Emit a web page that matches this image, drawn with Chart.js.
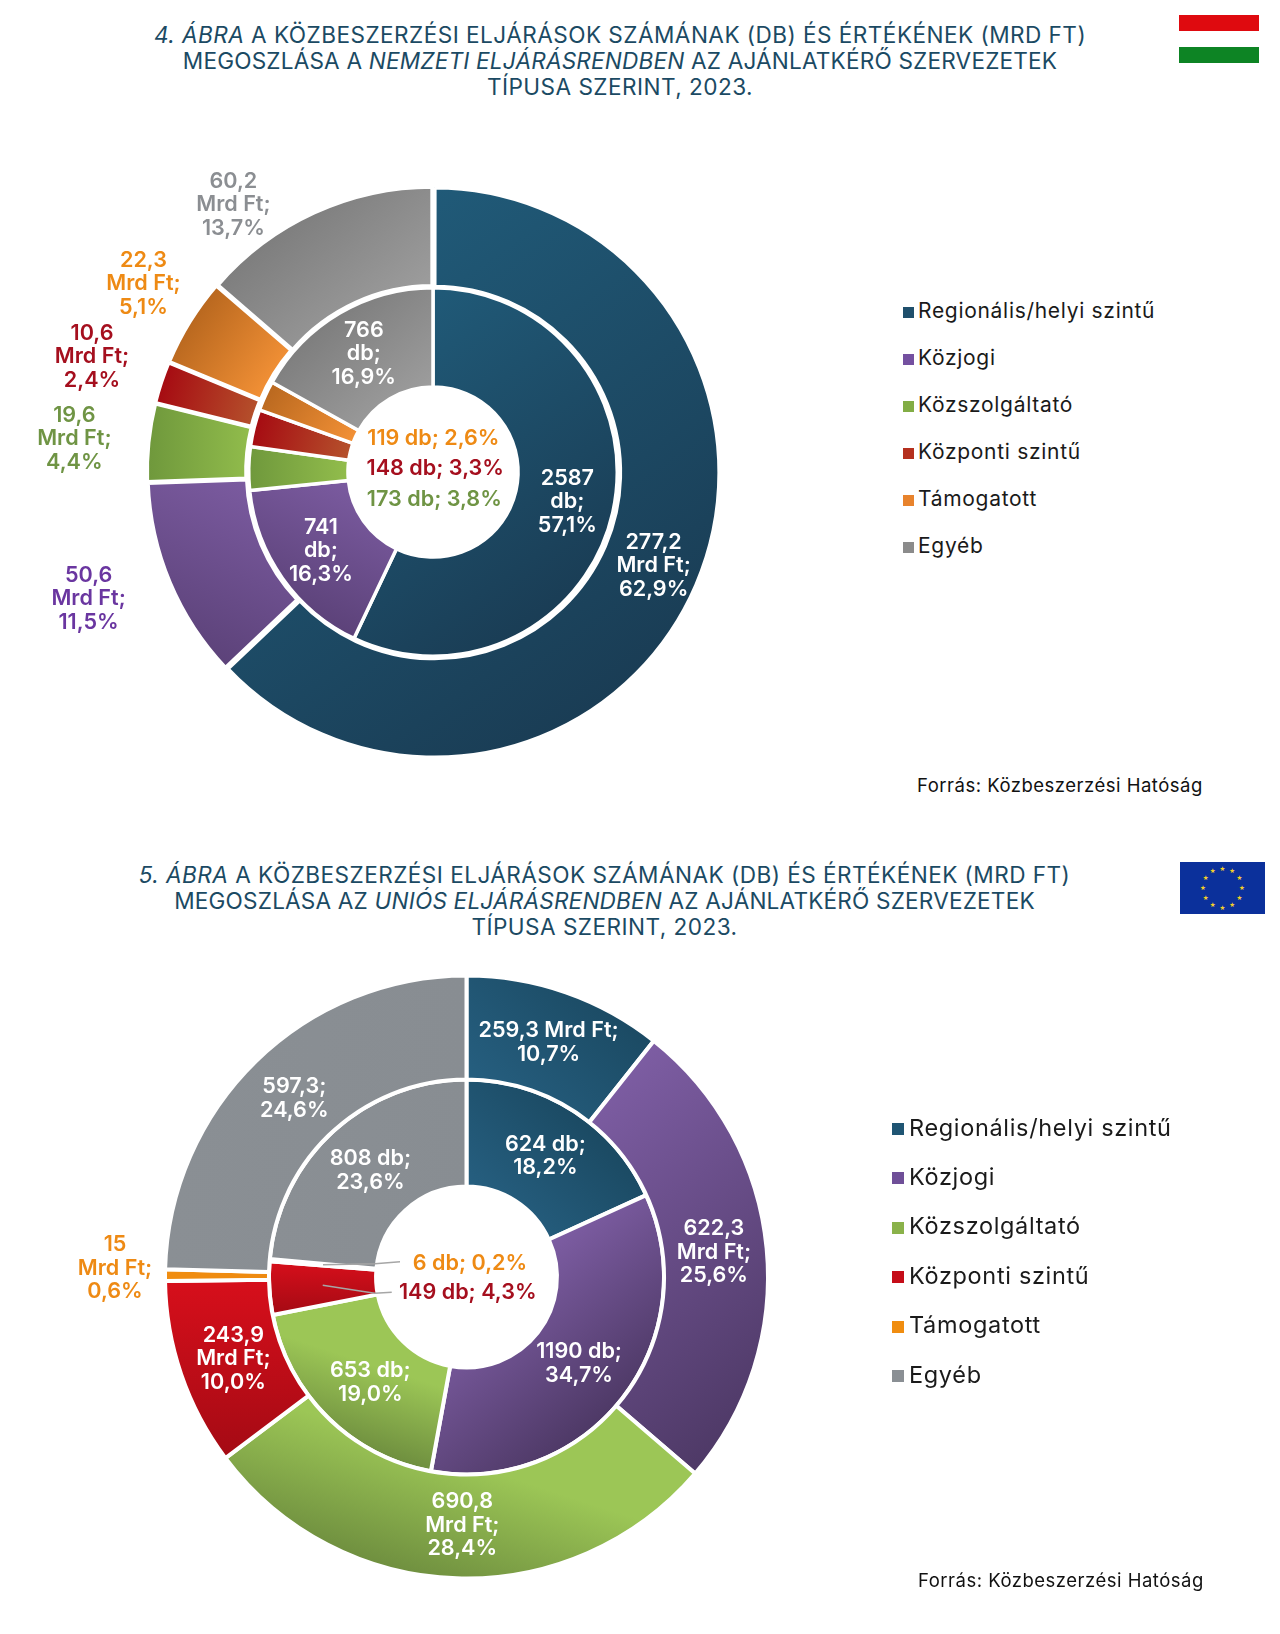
<!DOCTYPE html>
<html lang="hu">
<head>
<meta charset="utf-8">
<title>Közbeszerzési eljárások</title>
<script src="https://cdn.jsdelivr.net/npm/chart.js@4"></script>
<style>
  html, body { margin: 0; padding: 0; background: #fff; }
  #page { position: relative; width: 1280px; height: 1634px; overflow: hidden; font-family: Inter, sans-serif; }
  #page canvas { position: absolute; left: 0; }
  .title { position: absolute; text-align: center; white-space: nowrap; color: #1b4a63; font-size: 22.6px; line-height: 26px; font-weight: 400; transform: translateX(-50%); }
  .title span { letter-spacing: .45px; }
  .title span.tight { letter-spacing: .18px; }
  .source { position: absolute; color: #111; font-size: 18.5px; white-space: nowrap; letter-spacing: .5px; }
  .legend { position: absolute; }
  .legend div { position: absolute; left: 0; white-space: nowrap; color: #1a1a1a; }
  .legend i { position: absolute; left: 0; }
  .flag { position: absolute; left: 1179px; }
</style>
</head>
<body>
<div id="page">
  <div class="title" style="left:620px;top:22px">
    <span><i>4. ÁBRA</i> A KÖZBESZERZÉSI ELJÁRÁSOK SZÁMÁNAK (DB) ÉS ÉRTÉKÉNEK (MRD FT)</span><br>
    <span class="tight">MEGOSZLÁSA A <i>NEMZETI ELJÁRÁSRENDBEN</i> AZ AJÁNLATKÉRŐ SZERVEZETEK</span><br>
    <span>TÍPUSA SZERINT, 2023.</span>
  </div>
  <svg class="flag" style="top:15px" width="80" height="48"><rect width="80" height="16" fill="#df0a0f"/><rect y="16" width="80" height="16" fill="#fff"/><rect y="32" width="80" height="16" fill="#0d8424"/></svg>
  <canvas id="chart4" width="866" height="660" style="top:142px"></canvas>
  <div class="legend" id="legend4" style="left:903px;top:0"></div>
  <div class="source" style="left:917px;top:774px">Forrás: Közbeszerzési Hatóság</div>

  <div class="title" style="left:604.5px;top:862px">
    <span><i>5. ÁBRA</i> A KÖZBESZERZÉSI ELJÁRÁSOK SZÁMÁNAK (DB) ÉS ÉRTÉKÉNEK (MRD FT)</span><br>
    <span class="tight">MEGOSZLÁSA AZ <i>UNIÓS ELJÁRÁSRENDBEN</i> AZ AJÁNLATKÉRŐ SZERVEZETEK</span><br>
    <span>TÍPUSA SZERINT, 2023.</span>
  </div>
  <svg class="flag" id="euFlag" style="top:862px;left:1180px" width="85" height="52"><rect width="85" height="52" fill="#0b309b"/></svg>
  <canvas id="chart5" width="933" height="640" style="top:957px"></canvas>
  <div class="legend" id="legend5" style="left:892px;top:0"></div>
  <div class="source" style="left:918px;top:1569px">Forrás: Közbeszerzési Hatóság</div>
</div>

<script>
// categories and values
var categories = ['Regionális/helyi szintű', 'Közjogi', 'Közszolgáltató', 'Központi szintű', 'Támogatott', 'Egyéb'];

var value4 = [277.2, 50.6, 19.6, 10.6, 22.3, 60.2];
var count4 = [2587, 741, 173, 148, 119, 766];
var value5 = [259.3, 622.3, 690.8, 243.9, 15, 597.3];
var count5 = [624, 1190, 653, 149, 6, 808];

var valueText4 = ['277,2\nMrd Ft;\n62,9%', '50,6\nMrd Ft;\n11,5%', '19,6\nMrd Ft;\n4,4%', '10,6\nMrd Ft;\n2,4%', '22,3\nMrd Ft;\n5,1%', '60,2\nMrd Ft;\n13,7%'];
var countText4 = ['2587\ndb;\n57,1%', '741\ndb;\n16,3%', '173 db; 3,8%', '148 db; 3,3%', '119 db; 2,6%', '766\ndb;\n16,9%'];
var valueText5 = ['259,3 Mrd Ft;\n10,7%', '622,3\nMrd Ft;\n25,6%', '690,8\nMrd Ft;\n28,4%', '243,9\nMrd Ft;\n10,0%', '15\nMrd Ft;\n0,6%', '597,3;\n24,6%'];
var countText5 = ['624 db;\n18,2%', '1190 db;\n34,7%', '653 db;\n19,0%', '149 db; 4,3%', '6 db; 0,2%', '808 db;\n23,6%'];

// label nudges from the centre of each arc, px
var valueShift4 = [[3, 0], [-126, 35], [-123, -9], [-116, -41], [-88, -64], [-101, -52]];
var countShift4 = [[3, 0], [-2, 1], [136, 30], [133, 29], [123, 22], [-1, -2]];
var valueShift5 = [[0, 1], [-1, -1], [4, -1], [3, 1], [-102, -7], [2, 0]];
var countShift5 = [[1, 0], [-1, -2], [5, 3], [145, 7], [147, -1], [1, 0]];

var white = '#ffffff';
var textOrange = '#ee8a14', textRed = '#a50f1e', textGreen = '#6f9444', textPurple = '#6a36a0', textGray = '#8b8e92';
var valueInk4 = [white, textPurple, textGreen, textRed, textOrange, textGray];
var countInk4 = [white, white, textGreen, textRed, textOrange, white];
var valueInk5 = [white, white, white, white, textOrange, white];
var countInk5 = [white, white, white, textRed, textOrange, white];

// slice gradients: from, to, direction in degrees (0 = right, 90 = down), where the first colour stops
var shades4 = [['#205a78', '#1a3d55', 55, 0], ['#7b5ba0', '#5c4279', 115, 0], ['#6f983c', '#92bd4c', 0, 0], ['#a60b12', '#b5522c', 15, 0], ['#b9681f', '#f39136', 35, 0], ['#7e7e7e', '#9d9d9d', 50, 0]];
var shades5 = [['#1b4a63', '#265f80', 135, 0], ['#7d5da3', '#4e3966', 50, 0], ['#9cc656', '#6f8f3f', 108, 0.45], ['#d70f1b', '#a40a14', 90, 0], ['#f08d10', '#ee8a10', 0, 0], ['#8a8f94', '#888d92', 0, 0]];
var legendBox4 = ['#1f4f6c', '#7450a0', '#82ad45', '#b5301e', '#e8832c', '#8b8b8b'];
var legendBox5 = ['#1f5573', '#6f4f98', '#8ab24a', '#c50d18', '#f08d10', '#8a8f94'];

// grey leader lines for the two thin slices of the lower chart, from arc centre
var leaders5 = { 3: [[52, 8], [69, 7]], 4: [[52, -1], [77, -3]] };

var holeRatio = 0.3;

function sliceGradient(context, shades) {
  var chart = context.chart, area = chart.chartArea;
  if (!area || context.type !== 'data') return shades[context.dataIndex][0];
  var data = context.dataset.data, i = context.dataIndex;
  var total = data.reduce(function (a, b) { return a + b; }, 0);
  var before = 0;
  for (var k = 0; k < i; k++) before += data[k];
  var start = -Math.PI / 2 + before / total * 2 * Math.PI;
  var end = start + data[i] / total * 2 * Math.PI;
  var cx = (area.left + area.right) / 2, cy = (area.top + area.bottom) / 2;
  var rOut = chart.options.radius, rIn = rOut * holeRatio;
  var ring = (rOut - rIn) / 2;
  if (context.datasetIndex === 0) rIn = rOut - ring; else rOut = rOut - ring;
  var dir = shades[i][2] * Math.PI / 180, ux = Math.cos(dir), uy = Math.sin(dir);
  var lo = Infinity, hi = -Infinity;
  for (var s = 0; s <= 24; s++) {
    var a = start + (end - start) * s / 24;
    [rIn, rOut].forEach(function (r) {
      var p = Math.cos(a) * r * ux + Math.sin(a) * r * uy;
      if (p < lo) lo = p;
      if (p > hi) hi = p;
    });
  }
  var g = chart.ctx.createLinearGradient(cx + lo * ux, cy + lo * uy, cx + hi * ux, cy + hi * uy);
  g.addColorStop(0, shades[i][0]);
  g.addColorStop(shades[i][3], shades[i][0]);
  g.addColorStop(1, shades[i][1]);
  return g;
}

// no datalabels plugin here, so labels are written straight on the arcs
var sliceLabels = {
  id: 'sliceLabels',
  afterDatasetsDraw: function (chart, args, opts) {
    var ctx = chart.ctx;
    ctx.save();
    ctx.textAlign = 'center';
    ctx.textBaseline = 'middle';
    ctx.font = '600 ' + opts.size + 'px Inter, sans-serif';
    opts.rings.forEach(function (ring, d) {
      chart.getDatasetMeta(d).data.forEach(function (arc, i) {
        var c = arc.getCenterPoint();
        var x = c.x + ring.shift[i][0], y = c.y + ring.shift[i][1];
        if (ring.leaders && ring.leaders[i]) {
          ctx.strokeStyle = '#a6a6a6';
          ctx.lineWidth = 1.5;
          ctx.beginPath();
          ctx.moveTo(c.x, c.y);
          ring.leaders[i].forEach(function (p) { ctx.lineTo(c.x + p[0], c.y + p[1]); });
          ctx.stroke();
        }
        ctx.fillStyle = ring.ink[i];
        var lines = ring.text[i].split('\n');
        lines.forEach(function (line, n) {
          ctx.fillText(line, x, y + (n - (lines.length - 1) / 2) * opts.lineHeight);
        });
      });
    });
    ctx.restore();
  }
};

function drawDonut(id, cfg) {
  return new Chart(document.getElementById(id), {
    type: 'doughnut',
    data: {
      labels: categories,
      datasets: [
        {
          label: 'Mrd Ft',
          data: cfg.values,
          backgroundColor: function (c) { return sliceGradient(c, cfg.shades); },
          borderColor: white,
          borderWidth: cfg.outerBorder,
          offset: cfg.outerOffset
        },
        {
          label: 'db',
          data: cfg.counts,
          backgroundColor: function (c) { return sliceGradient(c, cfg.shades); },
          borderColor: white,
          borderWidth: cfg.innerBorder,
          weight: cfg.innerWeight
        }
      ]
    },
    plugins: [sliceLabels],
    options: {
      responsive: false,
      animation: false,
      radius: cfg.radius,
      cutout: (holeRatio * 100) + '%',
      layout: { padding: 0 },
      plugins: {
        legend: { display: false },
        tooltip: { enabled: false },
        sliceLabels: {
          size: 21.6,
          lineHeight: 23.5,
          rings: [
            { text: cfg.valueText, shift: cfg.valueShift, ink: cfg.valueInk },
            { text: cfg.countText, shift: cfg.countShift, ink: cfg.countInk, leaders: cfg.leaders }
          ]
        }
      }
    }
  });
}

function drawLegend(id, boxes, top, step, size, boxSize, gap, spacing) {
  var box = document.getElementById(id);
  categories.forEach(function (name, i) {
    var row = document.createElement('div');
    row.textContent = name;
    row.style.top = (top + i * step - size * 0.7) + 'px';
    row.style.left = (boxSize + gap) + 'px';
    row.style.fontSize = size + 'px';
    row.style.lineHeight = (size * 1.4) + 'px';
    row.style.letterSpacing = spacing + 'px';
    var mark = document.createElement('i');
    mark.style.top = (top + i * step - boxSize / 2 + 1) + 'px';
    mark.style.width = boxSize + 'px';
    mark.style.height = boxSize + 'px';
    mark.style.background = boxes[i];
    box.appendChild(row);
    box.appendChild(mark);
  });
}

// twelve stars on the EU flag
var flag = document.getElementById('euFlag');
for (var n = 0; n < 12; n++) {
  var t = n * Math.PI / 6;
  var star = document.createElementNS('http://www.w3.org/2000/svg', 'text');
  star.setAttribute('x', 42.5 + Math.sin(t) * 19.5);
  star.setAttribute('y', 26 - Math.cos(t) * 19.5 + 2.2);
  star.setAttribute('text-anchor', 'middle');
  star.setAttribute('font-size', '6.5');
  star.setAttribute('font-family', 'DejaVu Sans');
  star.setAttribute('fill', '#f2cf2a');
  star.textContent = '★';
  flag.appendChild(star);
}

drawDonut('chart4', {
  values: value4, counts: count4, shades: shades4,
  valueText: valueText4, countText: countText4,
  valueShift: valueShift4, countShift: countShift4,
  valueInk: valueInk4, countInk: countInk4,
  radius: 283.5, outerBorder: 4, innerBorder: 3.5, outerOffset: 6, innerWeight: 1
});
drawDonut('chart5', {
  values: value5, counts: count5, shades: shades5,
  valueText: valueText5, countText: countText5,
  valueShift: valueShift5, countShift: countShift5,
  valueInk: valueInk5, countInk: countInk5, leaders: leaders5,
  radius: 301.5, outerBorder: 4, innerBorder: 4, outerOffset: 0, innerWeight: 1.03
});
drawLegend('legend4', legendBox4, 311, 47, 21, 11, 4, 0.7);
drawLegend('legend5', legendBox5, 1128, 49.4, 23.5, 12, 5, 0.66);
</script>
</body>
</html>
